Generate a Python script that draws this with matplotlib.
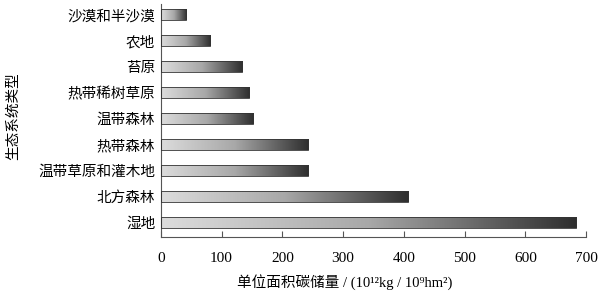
import numpy as np
import matplotlib
matplotlib.use("Agg")
import matplotlib.pyplot as plt
from matplotlib.colors import LinearSegmentedColormap

plt.rcParams['font.family'] = ['Liberation Serif', 'Noto Sans CJK SC']

categories = ['湿地', '北方森林', '温带草原和灌木地', '热带森林', '温带森林',
              '热带稀树草原', '苔原', '农地', '沙漠和半沙漠']
values = [684, 407, 243, 243, 152, 145, 134, 81, 42]
xticks = [0, 100, 200, 300, 400, 500, 600, 700]

fig = plt.figure(figsize=(6, 2.97), dpi=100)
ax = fig.add_axes([0.268, 0.202, 0.709, 0.783])

cmap = LinearSegmentedColormap.from_list('g', ['#dcdcdc', '#a8a8a8', '#2e2e2e'])
grad = np.linspace(0, 1, 256).reshape(1, -1)
h = 0.42
ypos = np.arange(len(categories))
bars = ax.barh(ypos, values, height=h, facecolor='none', edgecolor='#333333', linewidth=0.6, zorder=3)
for b, v, y in zip(bars, values, ypos):
    im = ax.imshow(grad, cmap=cmap, aspect='auto', extent=[0, v, y - h / 2, y + h / 2],
                   interpolation='bilinear', zorder=2)
    im.set_clip_path(b)

ax.set_xlim(0, 700)
ax.set_ylim(-0.55, 8.4)
ax.set_xticks(xticks)
ax.set_xticklabels([str(t) for t in xticks], fontsize=11)
ax.set_yticks(ypos)
ax.set_yticklabels(categories, fontsize=10.5)
ax.tick_params(axis='y', length=0, pad=4)
ax.tick_params(axis='x', length=4, direction='in', pad=11, color='#555555')
for s in ['top', 'right']:
    ax.spines[s].set_visible(False)
for s in ['left', 'bottom']:
    ax.spines[s].set_color('#555555')
    ax.spines[s].set_linewidth(0.8)

ax.set_xlabel('单位面积碳储量 / (10¹²kg / 10⁹hm²)', fontsize=10.5)
ax.xaxis.set_label_coords(0.433, -0.195)
ax.xaxis.label.set_va('center')
fig.text(0.022, 0.61, '生态系统类型', rotation=90, ha='center', va='center', fontsize=10.5)

fig.savefig('out.png', dpi=100)
